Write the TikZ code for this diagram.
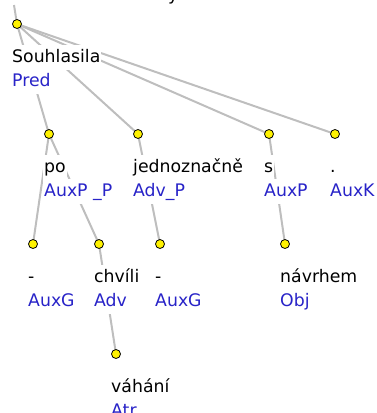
\documentclass[tikz,border=0pt]{standalone}
\usepackage{fontspec}
\setmainfont{DejaVu Sans}
\usetikzlibrary{positioning,
                backgrounds}
\definecolor{edgegray}{RGB}{190,190,190}
\definecolor{funcblue}{RGB}{40,35,200}
\tikzset{dot/.style =
   {circle,
    draw,
    fill=yellow,
    minimum size=9pt,
    inner sep=0pt,
    line width=0.8pt}}
\tikzset{word/.style =
   {anchor=base west,
    fill=white,
    inner xsep=1pt,
    inner ysep=4pt,
    text height=13pt,
    text depth=4pt,
    font=\fontsize{17.3}{20}\selectfont}}
\tikzset{func/.style =
   {word,
    text=funcblue}}
\tikzset{edge/.style = {draw=edgegray, line width=2pt}}

\begin{document}
\begin{tikzpicture}[x=1pt, y=-1pt]

    \useasboundingbox (0,0) rectangle (377,413);
    \clip (0,0) rectangle (377,413);

    % tree nodes
    \node [dot] (root)    at (17,24)   {};
    \node [dot] (po)      at (49,134)  {};
    \node [dot] (jedn)    at (138,134) {};
    \node [dot] (s)       at (269,134) {};
    \node [dot] (period)  at (335,134) {};
    \node [dot] (dashA)   at (33,244)  {};
    \node [dot] (chvili)  at (99,244)  {};
    \node [dot] (dashB)   at (160,244) {};
    \node [dot] (navrhem) at (285,244) {};
    \node [dot] (vahani)  at (116,354) {};

    % end of the cut-off parent edge and sentence
    \coordinate (up) at (14,5);
    \node [word, fill=none] (sent) at (167,0) {y};

    \begin{pgfonlayer}{background}
        \draw[edge] (up) -- (root.center);
        \draw[edge] (root.center) -- (po.center);
        \draw[edge] (root.center) -- (jedn.center);
        \draw[edge] (root.center) -- (s.center);
        \draw[edge] (root.center) -- (period.center);
        \draw[edge] (po.center) -- (dashA.center);
        \draw[edge] (po.center) -- (chvili.center);
        \draw[edge] (jedn.center) -- (dashB.center);
        \draw[edge] (s.center) -- (navrhem.center);
        \draw[edge] (chvili.center) -- (vahani.center);
    \end{pgfonlayer}

    % labels: form and function
    \node [word] (w-root) at ([xshift=-6pt, yshift=-38pt]root.center) {Souhlasila};
    \node [func] (f-root) at ([yshift=-24pt]w-root.base west) {Pred};

    \node [word] (w-po) at ([xshift=-6pt, yshift=-38pt]po.center) {po};
    \node [func] (f-po) at ([yshift=-24pt]w-po.base west) {AuxP \_P};

    \node [word] (w-jedn) at ([xshift=-6pt, yshift=-38pt]jedn.center) {jednoznačně};
    \node [func] (f-jedn) at ([yshift=-24pt]w-jedn.base west) {Adv\_P};

    \node [word] (w-s) at ([xshift=-6pt, yshift=-38pt]s.center) {s};
    \node [func] (f-s) at ([yshift=-24pt]w-s.base west) {AuxP};

    \node [word] (w-period) at ([xshift=-6pt, yshift=-38pt]period.center) {.};
    \node [func] (f-period) at ([yshift=-24pt]w-period.base west) {AuxK};

    \node [word] (w-dashA) at ([xshift=-6pt, yshift=-38pt]dashA.center) {-};
    \node [func] (f-dashA) at ([yshift=-24pt]w-dashA.base west) {AuxG};

    \node [word] (w-chvili) at ([xshift=-6pt, yshift=-38pt]chvili.center) {chvíli};
    \node [func] (f-chvili) at ([yshift=-24pt]w-chvili.base west) {Adv};

    \node [word] (w-dashB) at ([xshift=-6pt, yshift=-38pt]dashB.center) {-};
    \node [func] (f-dashB) at ([yshift=-24pt]w-dashB.base west) {AuxG};

    \node [word] (w-navrhem) at ([xshift=-6pt, yshift=-38pt]navrhem.center) {návrhem};
    \node [func] (f-navrhem) at ([yshift=-24pt]w-navrhem.base west) {Obj};

    \node [word] (w-vahani) at ([xshift=-6pt, yshift=-38pt]vahani.center) {váhání};
    \node [func] (f-vahani) at ([yshift=-24pt]w-vahani.base west) {Atr};

\end{tikzpicture}
\end{document}
